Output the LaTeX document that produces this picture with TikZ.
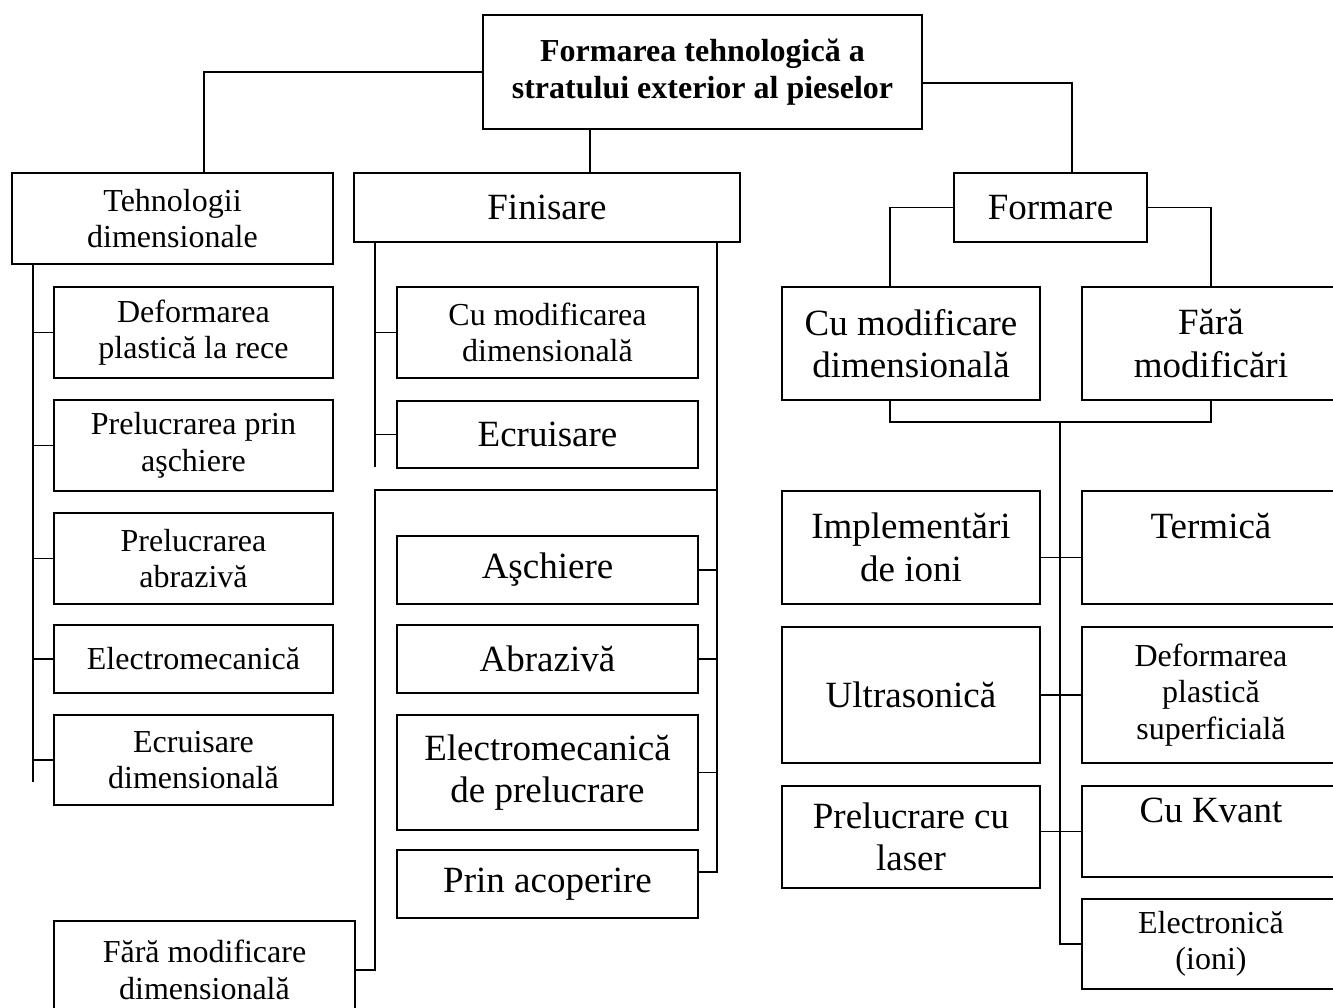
\documentclass[tikz,border=0pt]{standalone}
\usepackage{fontspec}
\setmainfont{Liberation Serif}
\usepackage{tikz}
\usetikzlibrary{positioning}

\tikzset{
  box/.style={draw, line width=2pt, inner sep=0pt, align=center, anchor=north west},
  wh/.style 2 args={minimum width=#1pt, minimum height=#2pt},
  sbox/.style={box, font=\fontsize{32}{36.5}\selectfont},
  lbox/.style={box, font=\fontsize{37}{42.5}\selectfont}
}

\begin{document}
\begin{tikzpicture}[x=1pt,y=-1pt,line join=miter,line width=1.8pt]
\useasboundingbox (0,0) rectangle (1333,1008);
\clip (0,0) rectangle (1333,1008);

\node[box, wh={439}{114}, font=\bfseries\fontsize{32}{36.5}\selectfont] (top) at (482,14) {Formarea tehnologică a\\stratului exterior al pieselor};

\node[sbox, wh={321}{91}] (tehn) at (11,172) {Tehnologii\\dimensionale};
\node[lbox, wh={386}{69}] (fin) at (353,172) {Finisare};
\node[lbox, wh={193}{69}] (formare) at (953,172) {Formare};

% tehnologii dimensionale
\node[sbox, wh={279}{91}] (d1) at (53,286) {Deformarea\\plastică la rece};
\node[sbox, wh={279}{91}] (d2) at (53,399) {Prelucrarea prin\\aşchiere};
\node[sbox, wh={279}{91}] (d3) at (53,512) {Prelucrarea\\abrazivă};
\node[sbox, wh={279}{68}] (d4) at (53,624) {Electromecanică};
\node[sbox, wh={279}{90}] (d5) at (53,714) {Ecruisare\\dimensională};

% finisare
\node[sbox, wh={301}{91}] (f1) at (396,286) {Cu modificarea\\dimensională};
\node[lbox, wh={301}{67}] (f2) at (396,400) {Ecruisare};
\node[lbox, wh={301}{68}] (f3) at (396,535) {Aşchiere};
\node[lbox, wh={301}{68}] (f4) at (396,624) {Abrazivă};
\node[lbox, wh={301}{115}] (f5) at (396,714) {Electromecanică\\de prelucrare};
\node[lbox, wh={301}{68}] (f6) at (396,849) {Prin acoperire};
\node[sbox, wh={301}{98}] (f7) at (53,920) {Fără modificare\\dimensională};

% formare
\node[lbox, wh={258}{113}] (cm) at (781,286) {Cu modificare\\dimensională};
\node[lbox, wh={258}{113}] (fm) at (1081,286) {Fără\\modificări};
\node[lbox, wh={258}{113}] (r1) at (781,490) {Implementări\\de ioni};
\node[lbox, wh={258}{113}] (r2) at (1081,490) {Termică\\~};
\node[lbox, wh={258}{136}] (r3) at (781,626) {Ultrasonică};
\node[sbox, wh={258}{136}] (r4) at (1081,626) {Deformarea\\plastică\\superficială};
\node[lbox, wh={258}{102}] (r5) at (781,785) {Prelucrare cu\\laser};
\node[lbox, wh={258}{91}] (r6) at (1081,785) {Cu Kvant\\~};
\node[sbox, wh={258}{90}] (r7) at (1081,898) {Electronică\\(ioni)};

\coordinate (lsp) at (33,782);
\coordinate (fl) at (375,467);
\coordinate (fr) at (717,0);
\coordinate (rsp) at (1060,422);

\draw (top.west) -| ([xshift=31.5pt]tehn.north);
\draw ([xshift=-112.5pt]top.south) -- ([xshift=-112.5pt]top.south |- fin.north);
\draw ([yshift=-11pt]top.east) -| ([xshift=21.5pt]formare.north);

\draw (tehn.south -| lsp) -- (lsp);
\foreach \n in {d1,d2,d3,d4,d5}
  \draw (\n.west) -- (\n.west -| lsp);

\draw (fin.south -| fl) -- (fl);
\draw (f1.west) -- (f1.west -| fl);
\draw (f2.west) -- (f2.west -| fl);
\draw (fin.south -| fr) -- (fr |- f6.north) -- ([yshift=12pt]f6.east -| fr) -- ([yshift=12pt]f6.east);
\foreach \n in {f3,f4,f5}
  \draw (\n.east) -- (\n.east -| fr);
\draw (fr |- 0,490) -- (fl |- 0,490) -- (fl |- f7.east) -- (f7.east);

\draw (formare.west) -| ([xshift=-21pt]cm.north);
\draw (formare.east) -| (fm.north);
\draw ([xshift=-21pt]cm.south) |- (rsp) -| (fm.south);
\draw (rsp) -- (rsp |- r7.west) -- (r7.west);
\draw ([yshift=-10pt]r1.east) -- ([yshift=-10pt]r2.west);
\draw (r3.east) -- (r4.west);
\draw (r5.east |- r6.west) -- (r6.west);
\end{tikzpicture}
\end{document}
